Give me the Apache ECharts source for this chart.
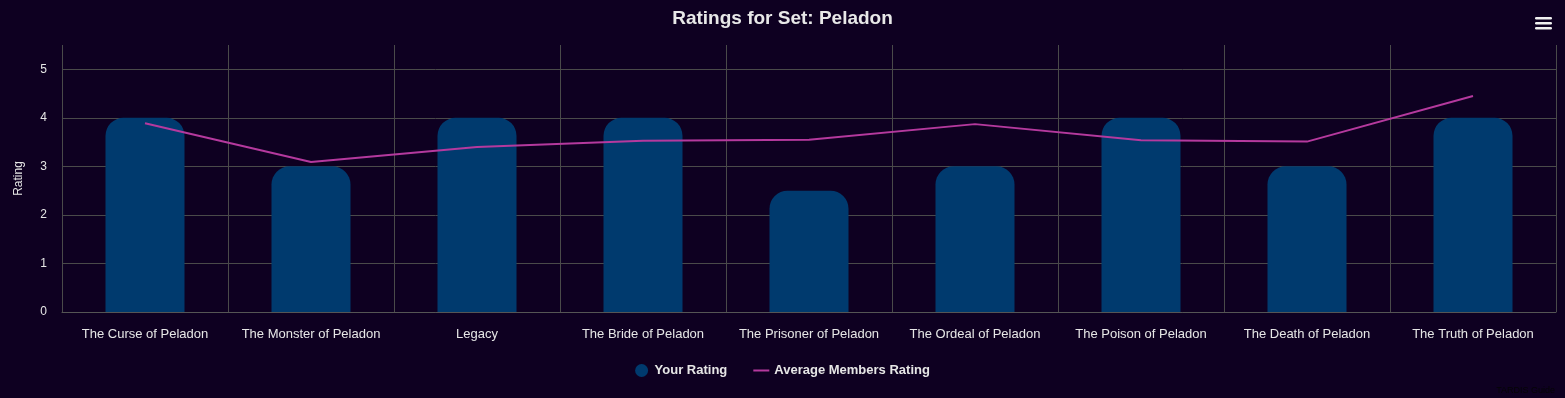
<!DOCTYPE html>
<html>
<head>
<meta charset="utf-8">
<script src="https://cdn.jsdelivr.net/npm/echarts@6/dist/echarts.min.js"></script>
<style>
html,body{margin:0;padding:0;background:#0e0021;}
#c{width:1565px;height:398px;}
</style>
</head>
<body>
<div id="c"></div>
<script>
const categories = ["The Curse of Peladon","The Monster of Peladon","Legacy","The Bride of Peladon","The Prisoner of Peladon","The Ordeal of Peladon","The Poison of Peladon","The Death of Peladon","The Truth of Peladon"];
const yourRating = [4, 3, 4, 4, 2.5, 3, 4, 3, 4];
const averageRating = [3.89, 3.09, 3.40, 3.53, 3.55, 3.87, 3.54, 3.51, 4.45];
const yTicks = [0, 1, 2, 3, 4, 5];

const chart = echarts.init(document.getElementById('c'), null, {renderer: 'canvas'});
const font = '"Liberation Sans", Arial, sans-serif';
chart.setOption({
  backgroundColor: '#0e0021',
  animation: false,
  textStyle: {fontFamily: font},
  title: {
    text: 'Ratings for Set: Peladon',
    left: 'center', top: 4,
    textStyle: {color: '#e8e8e8', fontSize: 19, fontWeight: 'bold', fontFamily: font}
  },
  grid: {left: 62, right: 9, top: 45, bottom: 86},
  legend: {
    bottom: 16, left: 'center',
    itemGap: 26, itemWidth: 16, itemHeight: 13,
    textStyle: {color: '#e6e6e6', fontSize: 13, fontWeight: 'bold', fontFamily: font},
    data: [
      {name: 'Your Rating', icon: 'circle'},
      {name: 'Average Members Rating', icon: 'path://M0,5 L16,5 L16,7 L0,7 Z'}
    ]
  },
  xAxis: {
    type: 'category',
    data: categories,
    axisTick: {show: false},
    axisLine: {lineStyle: {color: '#555555'}},
    axisLabel: {color: '#e6e6e6', fontSize: 13, margin: 16, interval: 0, fontFamily: font},
    splitLine: {show: true, lineStyle: {color: '#4a4a4a', width: 1}}
  },
  yAxis: {
    type: 'value',
    min: yTicks[0], max: 5.5, interval: 1,
    name: 'Rating', nameLocation: 'middle', nameRotate: 90, nameGap: 37,
    nameTextStyle: {color: '#e6e6e6', fontSize: 12, fontFamily: font},
    axisLine: {show: false},
    axisTick: {show: false},
    axisLabel: {color: '#e6e6e6', fontSize: 12, margin: 15, showMaxLabel: false,
      formatter: v => (yTicks.indexOf(v) >= 0 ? String(v) : '')},
    splitLine: {show: true, showMaxLine: false, lineStyle: {color: '#4a4a4a', width: 1}}
  },
  series: [
    {
      name: 'Your Rating', type: 'bar', data: yourRating,
      barWidth: 79,
      itemStyle: {color: '#003a6e', borderRadius: [18, 18, 0, 0]},
      z: 2
    },
    {
      name: 'Average Members Rating', type: 'line', data: averageRating,
      showSymbol: false, symbol: 'none',
      lineStyle: {color: '#b5399e', width: 2},
      itemStyle: {color: '#b5399e'},
      z: 3
    }
  ],
  graphic: [
    {type: 'rect', right: 13, top: 17, shape: {width: 17, height: 2.5, r: 1.2}, style: {fill: '#f0f0f0'}},
    {type: 'rect', right: 13, top: 22, shape: {width: 17, height: 2.5, r: 1.2}, style: {fill: '#f0f0f0'}},
    {type: 'rect', right: 13, top: 27, shape: {width: 17, height: 2.5, r: 1.2}, style: {fill: '#f0f0f0'}},
    {type: 'text', right: 10, bottom: 3, style: {text: 'TARDIS Guide', fill: '#050505', fontSize: 9, fontFamily: font}}
  ]
});
</script>
</body>
</html>
